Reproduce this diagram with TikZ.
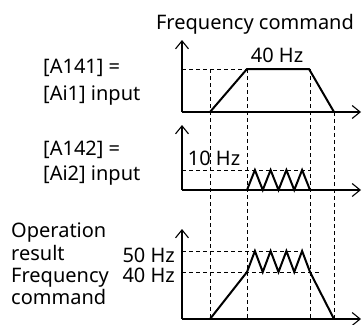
\documentclass[tikz,border=0pt]{standalone}
\usepackage{fontspec}
\setmainfont{Noto Sans}
\usetikzlibrary{arrows.meta}
\begin{document}
\begin{tikzpicture}[x=1pt,y=-1pt,
  axis/.style={line width=1.1pt,-{Straight Barb[length=8pt,width=13pt,line width=1.1pt]}},
  curve/.style={line width=2pt,line join=miter},
  guide/.style={line width=0.9pt,dash pattern=on 4pt off 3pt},
  lbl/.style={font=\fontsize{20}{20}\selectfont,inner sep=0pt,anchor=base},
  lblL/.style={lbl,anchor=base west}]
\useasboundingbox (0,0) rectangle (363,324);
% vertical guides
\draw[guide] (210,69) -- (210,319);
\draw[guide] (247,69) -- (247,319);
\draw[guide] (310,69) -- (310,319);
\draw[guide] (334,112) -- (334,319);
% top graph
\draw[guide] (182,69) -- (247,69);
\draw[axis] (182,112) -- (182,40);
\draw[axis] (182,112) -- (361,112);
\draw[curve] (210,112) -- (247,69) -- (309,69) -- (334,112);
% middle graph
\draw[guide] (182,170) -- (310,170);
\draw[axis] (182,190) -- (182,125);
\draw[axis] (182,190) -- (361,190);
\draw[curve] (247,190) -- (254.9,170) -- (262.75,190) -- (270.6,170) -- (278.5,190) -- (286.4,170) -- (294.25,190) -- (302.1,170) -- (310,190);
% bottom graph
\draw[guide] (182,251) -- (303,251);
\draw[guide] (182,272) -- (320,272);
\draw[axis] (182,319) -- (182,229);
\draw[axis] (182,319) -- (361,319);
\draw[curve] (210,319) -- (247,272) -- (254.9,251) -- (262.75,272) -- (270.6,251) -- (278.5,272) -- (286.4,251) -- (294.25,272) -- (302.1,251) -- (310,272) -- (334,319);
% texts
\node[lbl] (fc) at (255,29) {Frequency command};
\node[lbl] (f40) at (277,62) {40 Hz};
\node[lblL] (a141) at (43,73) {[A141] =};
\node[lblL] (ai1) at (43,100) {[Ai1] input};
\node[lbl] (f10) at (214,165) {10 Hz};
\node[lblL] (a142) at (43,155) {[A142] =};
\node[lblL] (ai2) at (43,180) {[Ai2] input};
\node[lblL] (op1) at (11,237) {Operation};
\node[lblL] (op2) at (11,260) {result};
\node[lblL] (op3) at (11,282) {Frequency};
\node[lblL] (op4) at (11,304) {command};
\node[lbl,anchor=base east] (f50) at (175,262) {50 Hz};
\node[lbl,anchor=base east] (f40b) at (175,282) {40 Hz};
\end{tikzpicture}
\end{document}
